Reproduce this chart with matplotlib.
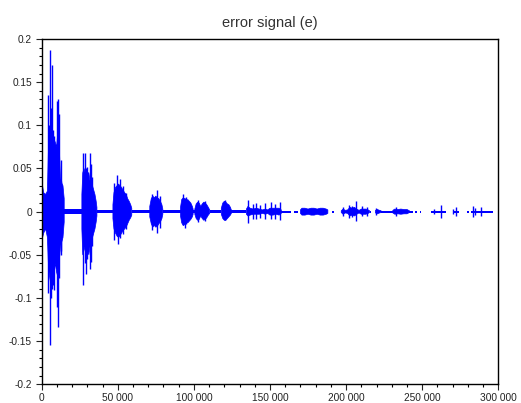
import matplotlib
matplotlib.use("Agg")
import matplotlib.pyplot as plt
from matplotlib.ticker import FixedLocator, MultipleLocator
import numpy as np

plt.rcParams['font.family'] = ['Liberation Sans', 'DejaVu Sans']
plt.rcParams['axes.unicode_minus'] = False

# envelope of the error signal inside each burst (sample index, upper, lower), NaN splits bursts
env_x = [0, 600, 1300, 2600, 3800, 4400, 5200, 6000, 7000, 8000, 9000, 9800, 10500, 11500, 12300, 13200, 14000, 14800, np.nan,
         26400, 27000, 27800, 28600, 29400, 30200, 31000, 31800, 32600, 33400, 34200, 35000, 35800, 36300, np.nan,
         46800, 47500, 48500, 49500, 50500, 51500, 52500, 53500, 54500, 55500, 56500, 57500, 58500, 59200, np.nan,
         71000, 72000, 73000, 74000, 75000, 76000, 77000, 78000, 79000, 79600, np.nan,
         91200, 92000, 93000, 94000, 95000, 96000, 97000, 98000, 99000, 99500, np.nan,
         100600, 101500, 102500, 103500, 104500, 105500, 106500, 107500, 108500, 109500, 110400, np.nan,
         118000, 119000, 120000, 121000, 122000, 123000, 124000, 124600, np.nan,
         134500, 135500, 137000, 139000, 141000, 143000, 145000, 147000, 148500, 150000, 152000, 154000, 156000, 157400, np.nan,
         170000, 171000, 173000, 175000, 177000, 179000, 181000, 183000, 185000, 187000, 188000, np.nan,
         196800, 198000, 199500, 201000, 202500, 204000, 205500, 207000, 208500, 210000, 211500, 213000, 214500, 215400, np.nan,
         219300, 220500, 222000, 223000, np.nan,
         230700, 232000, 234000, 236000, 238000, 240000, 241600]
env_hi = [0.040, 0.030, 0.022, 0.020, 0.024, 0.070, 0.085, 0.095, 0.090, 0.085, 0.080, 0.075, 0.090, 0.080, 0.040, 0.033, 0.030, 0.015, np.nan,
          0.020, 0.045, 0.050, 0.045, 0.040, 0.045, 0.045, 0.035, 0.035, 0.030, 0.025, 0.020, 0.012, 0.005, np.nan,
          0.008, 0.022, 0.028, 0.030, 0.032, 0.030, 0.028, 0.025, 0.022, 0.020, 0.015, 0.012, 0.008, 0.004, np.nan,
          0.006, 0.015, 0.018, 0.016, 0.018, 0.016, 0.015, 0.012, 0.008, 0.003, np.nan,
          0.005, 0.014, 0.016, 0.015, 0.013, 0.014, 0.012, 0.010, 0.006, 0.003, np.nan,
          0.003, 0.009, 0.011, 0.010, 0.006, 0.009, 0.011, 0.010, 0.008, 0.005, 0.002, np.nan,
          0.004, 0.010, 0.012, 0.011, 0.009, 0.008, 0.005, 0.002, np.nan,
          0.003, 0.006, 0.004, 0.003, 0.004, 0.003, 0.002, 0.003, 0.002, 0.004, 0.004, 0.004, 0.004, 0.002, np.nan,
          0.002, 0.004, 0.004, 0.003, 0.004, 0.004, 0.003, 0.004, 0.004, 0.003, 0.002, np.nan,
          0.001, 0.003, 0.0015, 0.002, 0.005, 0.004, 0.005, 0.003, 0.0015, 0.003, 0.003, 0.003, 0.002, 0.001, np.nan,
          0.0015, 0.0025, 0.0015, 0.001, np.nan,
          0.0015, 0.003, 0.0025, 0.003, 0.0025, 0.0025, 0.001]
env_lo = [-0.030, -0.030, -0.025, -0.020, -0.030, -0.060, -0.075, -0.085, -0.080, -0.070, -0.060, -0.070, -0.075, -0.060, -0.040, -0.035, -0.030, -0.012, np.nan,
          -0.020, -0.050, -0.045, -0.040, -0.040, -0.045, -0.050, -0.040, -0.035, -0.030, -0.025, -0.020, -0.012, -0.005, np.nan,
          -0.008, -0.020, -0.025, -0.028, -0.030, -0.028, -0.025, -0.022, -0.020, -0.018, -0.014, -0.010, -0.007, -0.004, np.nan,
          -0.006, -0.014, -0.018, -0.016, -0.018, -0.017, -0.014, -0.012, -0.008, -0.003, np.nan,
          -0.005, -0.013, -0.016, -0.015, -0.013, -0.013, -0.011, -0.009, -0.006, -0.003, np.nan,
          -0.003, -0.008, -0.010, -0.009, -0.005, -0.008, -0.010, -0.009, -0.007, -0.004, -0.002, np.nan,
          -0.003, -0.008, -0.010, -0.010, -0.008, -0.006, -0.004, -0.002, np.nan,
          -0.003, -0.005, -0.004, -0.003, -0.003, -0.003, -0.002, -0.003, -0.002, -0.004, -0.004, -0.003, -0.004, -0.002, np.nan,
          -0.002, -0.004, -0.004, -0.003, -0.004, -0.004, -0.003, -0.004, -0.004, -0.003, -0.002, np.nan,
          -0.001, -0.003, -0.0015, -0.002, -0.005, -0.004, -0.005, -0.003, -0.0015, -0.003, -0.003, -0.003, -0.002, -0.001, np.nan,
          -0.0015, -0.0025, -0.0015, -0.001, np.nan,
          -0.0015, -0.003, -0.0025, -0.003, -0.0025, -0.0025, -0.001]

# isolated peaks sticking out of the bursts
spike_x = [4100, 4500, 5200, 5800, 6500, 7300, 8300, 9300, 10200, 10900, 11700, 12400, 13000,
           27300, 28200, 29000, 30000, 31500, 32300, 33000,
           47600, 49600, 50300, 51400, 53500, 55700,
           72500, 75600, 77800,
           92900, 94000, 95100,
           103000, 107000, 120200,
           135800, 138500, 141000, 143500, 146500, 150500, 153000, 156800,
           198000, 202200, 204000, 206400, 210500, 213500,
           219800, 232900, 258000, 262400, 270500, 272200, 283100, 284700, 288600]
spike_hi = [0.135, 0.100, 0.187, 0.120, 0.170, 0.095, 0.088, 0.075, 0.128, 0.131, 0.113, 0.060, 0.035,
            0.068, 0.068, 0.050, 0.052, 0.068, 0.055, 0.040,
            0.033, 0.043, 0.030, 0.038, 0.030, 0.022,
            0.021, 0.025, 0.018,
            0.020, 0.016, 0.017,
            0.013, 0.012, 0.014,
            0.014, 0.009, 0.010, 0.008, 0.010, 0.011, 0.009, 0.011,
            0.005, 0.008, 0.007, 0.012, 0.006, 0.005,
            0.004, 0.005, 0.003, 0.0075, 0.003, 0.005, 0.006, 0.004, 0.005]
spike_lo = [-0.094, -0.070, -0.155, -0.100, -0.090, -0.085, -0.091, -0.065, -0.110, -0.134, -0.077, -0.050, -0.045,
            -0.085, -0.060, -0.072, -0.055, -0.066, -0.058, -0.040,
            -0.033, -0.028, -0.037, -0.030, -0.026, -0.020,
            -0.021, -0.025, -0.019,
            -0.016, -0.019, -0.014,
            -0.012, -0.011, -0.010,
            -0.013, -0.008, -0.009, -0.007, -0.008, -0.009, -0.008, -0.010,
            -0.005, -0.007, -0.006, -0.011, -0.005, -0.005,
            -0.004, -0.005, -0.003, -0.007, -0.003, -0.005, -0.006, -0.004, -0.005]

# quiet stretches between bursts (start, end, half thickness)
base_start = [14800, 36300, 59200, 79600, 99500, 110400, 124600, 157400, 165500, 190800, 215400,
              223000, 241600, 245500, 248300, 255800, 270000, 279500, 282000]
base_end = [26400, 46800, 71000, 91200, 100600, 118000, 134500, 164000, 168500, 191800, 216500,
            230700, 244000, 246500, 249300, 265700, 274000, 281000, 296200]
base_amp = [0.0028, 0.002, 0.0016, 0.0014, 0.0014, 0.0014, 0.0014, 0.001, 0.001, 0.001, 0.001,
            0.001, 0.001, 0.001, 0.001, 0.001, 0.001, 0.001, 0.001]

xtick_vals = [0, 50000, 100000, 150000, 200000, 250000, 300000]
xtick_labels = ['0', '50 000', '100 000', '150 000', '200 000', '250 000', '300 000']
ytick_vals = [-0.2, -0.15, -0.1, -0.05, 0, 0.05, 0.1, 0.15, 0.2]
ytick_labels = ['-0.2', '-0.15', '-0.1', '-0.05', '0', '0.05', '0.1', '0.15', '0.2']

blue = '#0000ff'

fig = plt.figure(figsize=(5.21, 4.03), dpi=100)
ax = fig.add_axes([0.080, 0.0464, 0.8765, 0.8568])

ax.fill_between(np.array(env_x), np.array(env_hi), np.array(env_lo), color=blue, lw=0.5)
for s, e, a in zip(base_start, base_end, base_amp):
    ax.fill_between([s, e], [a, a], [-a, -a], color=blue, lw=0)
ax.vlines(spike_x, spike_lo, spike_hi, color=blue, lw=1.0)

ax.set_xlim(0, 300000)
ax.set_ylim(-0.2, 0.2)
ax.xaxis.set_major_locator(FixedLocator(xtick_vals))
ax.set_xticklabels(xtick_labels)
ax.yaxis.set_major_locator(FixedLocator(ytick_vals))
ax.set_yticklabels(ytick_labels)
ax.xaxis.set_minor_locator(MultipleLocator(10000))
ax.yaxis.set_minor_locator(MultipleLocator(0.01))
ax.tick_params(which='major', direction='out', length=4, width=0.8, labelsize=7.3, colors='#222222')
ax.tick_params(which='minor', direction='out', length=2, width=0.8)
ax.tick_params(axis='x', pad=2)
ax.tick_params(axis='y', pad=3)
for sp in ax.spines.values():
    sp.set_linewidth(1.0)
    sp.set_color('black')

ax.set_title('error signal (e)', fontsize=10.5, color='#333333', pad=9)

plt.savefig('out.png', dpi=100)
